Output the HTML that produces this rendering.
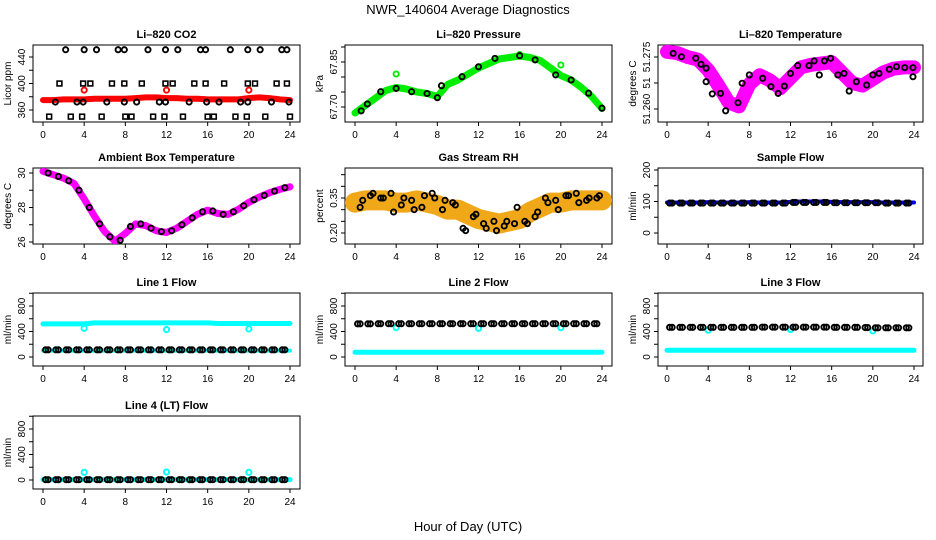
<!DOCTYPE html>
<html><head><meta charset="utf-8"><style>
html,body{margin:0;padding:0;background:#fff}
svg{display:block;font-family:"Liberation Sans",Arial,sans-serif}
</style></head><body>
<svg id="c" width="936" height="540" viewBox="0 0 936 540">
<text x="468" y="14" text-anchor="middle" font-size="13">NWR_140604  Average Diagnostics</text>
<text x="468" y="531" text-anchor="middle" font-size="13">Hour of Day (UTC)</text>
</svg>
<script>
// ---- data ----
const hours = [0,1,2,3,4,5,6,7,8,9,10,11,12,13,14,15,16,17,18,19,20,21,22,23,24];
const halfHours = [0.5,1.5,2.5,3.5,4.5,5.5,6.5,7.5,8.5,9.5,10.5,11.5,12.5,13.5,14.5,15.5,16.5,17.5,18.5,19.5,20.5,21.5,22.5,23.5];
const outlierHours = [4,12,20];
// CO2
const co2Red = [375,375,376,376,376,377,377,377,377,378,379,379,378,378,377,377,376,376,376,376,378,379,378,376,375];
const co2RedOut = [390,390,390];
const co2TopHours = [2.2,4.0,5.2,7.3,7.9,10.2,11.9,13.1,15.3,15.8,18.2,19.9,21.1,23.2,23.7];
const co2MidHours = [1.6,3.9,4.6,6.7,7.9,9.6,11.9,12.6,14.7,15.8,17.6,19.9,20.6,22.7,23.7];
const co2LowHours = [1.2,3.3,3.9,6.2,7.9,9.1,11.3,11.9,14.2,15.9,17.1,19.2,19.9,22.2,23.9];
const co2BotHours = [0.6,2.7,3.8,5.7,8.0,8.6,10.7,11.8,13.6,16.0,16.6,18.7,19.8,21.6,24.0];
const co2Levels = [451,400,372,350];
// Pressure
const presHours = [0.6,1.2,2.5,4,5.5,7,8,8.4,10.4,12,13.6,16,17.5,19.5,21,22.7,24];
const presBlack = [67.687,67.71,67.751,67.762,67.751,67.745,67.731,67.771,67.801,67.834,67.862,67.871,67.857,67.807,67.79,67.746,67.696];
const presGreen = [67.68,67.705,67.73,67.755,67.765,67.76,67.75,67.745,67.735,67.775,67.79,67.81,67.83,67.845,67.86,67.865,67.87,67.865,67.855,67.83,67.805,67.79,67.765,67.735,67.695];
const presGreenOut = [67.81,67.875,67.84];
const presOutHours = [4,16,20];
// Li-820 temperature
const tempHours = [0.6,1.4,2.8,3.3,3.8,3.8,4.4,5.2,5.7,6.9,7.3,8,9.3,10.1,10.8,11.4,12,12.7,13.8,14.3,14.8,15.3,15.9,16.6,17.2,17.7,18.4,19.4,20,20.6,21.6,22.3,23.1,23.9,23.9];
const tempBlack = [51.2764,51.2751,51.2745,51.2722,51.2707,51.2655,51.2608,51.261,51.2543,51.2574,51.2649,51.2681,51.2668,51.2636,51.261,51.2638,51.2687,51.2717,51.2717,51.2735,51.2681,51.2735,51.2745,51.2681,51.2687,51.2619,51.2655,51.2642,51.2681,51.2687,51.2703,51.2713,51.2709,51.2709,51.2674];
const tempMag = [51.277,51.2765,51.275,51.274,51.270,51.264,51.2575,51.256,51.2645,51.268,51.266,51.263,51.267,51.271,51.272,51.2725,51.273,51.269,51.265,51.264,51.2665,51.269,51.2705,51.271,51.271];
// Ambient box temperature
const ambMag = [30.1,29.9,29.7,29.4,28.5,27.5,26.6,26.05,26.5,27.05,26.95,26.65,26.55,26.8,27.2,27.6,27.85,27.65,27.6,27.9,28.3,28.6,28.85,29.05,29.2];
const ambBlack = [30.0,29.8,29.55,29.0,28.0,27.05,26.3,26.1,26.9,27.05,26.8,26.6,26.65,27.0,27.4,27.75,27.8,27.6,27.75,28.1,28.45,28.7,28.95,29.15];
// Gas stream RH
const rhBand = [0.33,0.34,0.34,0.34,0.33,0.33,0.34,0.33,0.32,0.30,0.30,0.28,0.26,0.25,0.24,0.25,0.26,0.29,0.31,0.33,0.33,0.34,0.34,0.34,0.34];
const rhBlackA = [0.31,0.36,0.35,0.37,0.32,0.34,0.31,0.37,0.30,0.33,0.22,0.27,0.24,0.25,0.23,0.24,0.25,0.27,0.35,0.34,0.36,0.37,0.34,0.35];
const rhBlackB = [0.34,0.37,0.35,0.29,0.35,0.30,0.36,0.35,0.34,0.32,0.21,0.28,0.22,0.21,0.25,0.31,0.24,0.29,0.33,0.30,0.36,0.33,0.35,0.36];
// Sample flow
const sampBlue = [97,97,97,97,98,97,97,97,98,97,97,97,99,100,100,100,99,98,98,98,98,97,97,97,97];
const sampBlack = [95,95,95,95,95,95,95,95,95,95,95,95,97,97,97,97,96,96,96,96,96,95,95,95];
// Line flows
const l1CyanHi = [520,520,520,520,520,535,535,535,535,535,535,535,535,535,535,535,535,525,525,525,525,525,525,525,525];
const l1CyanLo = [100,100,100,100,100,100,100,100,100,100,100,100,100,100,100,100,100,100,100,100,100,100,100,100,100];
const l1Black = [112,112,112,112,112,112,112,112,112,112,112,112,112,112,112,112,112,112,112,112,112,112,112,112];
const l1Out = [450,430,440];
const l2Black = [520,520,522,522,522,522,522,522,522,522,522,522,522,522,522,522,522,522,522,522,522,522,522,522];
const l2CyanLo = [75,75,75,75,75,75,75,75,75,75,75,75,75,75,75,75,75,75,75,75,75,75,75,75,75];
const l2Out = [460,450,460];
const l3Black = [465,465,465,465,465,465,465,465,465,468,468,468,468,468,468,468,465,465,465,462,458,458,458,458];
const l3CyanLo = [105,105,105,105,105,105,105,105,105,105,105,105,105,105,105,105,105,105,105,105,105,105,105,105,105];
const l3Out = [420,430,410];
const l4Black = [5,5,5,5,5,5,5,5,5,5,5,5,5,5,5,5,5,5,5,5,5,5,5,5];
const l4Cyan = [5,5,5,5,5,5,5,5,5,5,5,5,5,5,5,5,5,5,5,5,5,5,5,5,5];
const l4Out = [120,125,120];
const xTicks = [0,4,8,12,16,20,24];

// ---- layout ----
const svg = document.getElementById('c');
const NS = 'http://www.w3.org/2000/svg';
const COLS = [{l:33,r:300,x0:43,x24:290},{l:345,r:612,x0:355,x24:602},{l:658,r:923,x0:667,x24:914}];
const ROWS = [{t:45,b:122},{t:168,b:244},{t:293,b:366},{t:416,b:489}];
function mk(tag, attrs, parent){const e=document.createElementNS(NS,tag);for(const k in attrs)e.setAttribute(k,attrs[k]);(parent||svg).appendChild(e);return e;}

function panel(name, col, row, title, ylab, cal, yt, ylabels){
  const C=COLS[col], R=ROWS[row];
  const g=mk('g',{});
  
  
  const sx=h=>C.x0+h*(C.x24-C.x0)/24;
  const sy=v=>cal[1]+(v-cal[0])*(cal[3]-cal[1])/(cal[2]-cal[0]);
  const box=mk('rect',{x:C.l,y:R.t,width:C.r-C.l,height:R.b-R.t,fill:'none',stroke:'#000','stroke-width':1},g);
  
  
  const tt=mk('text',{x:(C.l+C.r)/2,y:R.t-7,'text-anchor':'middle','font-size':11,'font-weight':'bold'},g);
  tt.textContent=title;
  
  
  xTicks.forEach(h=>{
    mk('line',{x1:sx(h),x2:sx(h),y1:R.b,y2:R.b+4,stroke:'#000'},g);
    const t=mk('text',{x:sx(h),y:R.b+16,'text-anchor':'middle','font-size':10},g);
    t.textContent=h;
    
    
  });
  yt.forEach((v,i)=>{
    const y=sy(v);
    mk('line',{x1:C.l-4,x2:C.l,y1:y,y2:y,stroke:'#000'},g);
    if(ylabels[i]){
      const t=mk('text',{x:C.l-8,y:y,'text-anchor':'middle','font-size':10,transform:`rotate(-90 ${C.l-8} ${y})`},g);
      t.textContent=ylabels[i];
      
      
    }
  });
  const yl=mk('text',{x:C.l-22,y:(R.t+R.b)/2,'text-anchor':'middle','font-size':10,transform:`rotate(-90 ${C.l-22} ${(R.t+R.b)/2})`},g);
  yl.textContent=ylab;
  
  
  const clip='clip-'+name;
  const cp=mk('clipPath',{id:clip},g);
  mk('rect',{x:C.l,y:R.t,width:C.r-C.l,height:R.b-R.t},cp);
  const pg=mk('g',{'clip-path':`url(#${clip})`},g);
  return {
    band(xs,vals,color,w,label){
      const p=mk('polyline',{points:xs.map((h,i)=>sx(h)+','+sy(vals[i])).join(' '),fill:'none',stroke:color,'stroke-width':w,'stroke-linecap':'round','stroke-linejoin':'round'},pg);
      
      
    },
    pts(xs,vals,color,label,r){
      xs.forEach((h,i)=>{
        const c=mk('circle',{cx:sx(h),cy:sy(vals[i]),r:r||2.6,fill:'none',stroke:color,'stroke-width':1.9},pg);
        
        
      });
    },
    sq(xs,val,label){
      xs.forEach(h=>{
        const c=mk('rect',{x:sx(h)-2.4,y:sy(val)-2.4,width:4.8,height:4.8,fill:'none',stroke:'#000','stroke-width':1.6},pg);
        
        
      });
    }
  };
}
const flowTicks=[0,200,400,600,800,1000], flowLabels=['0','','400','','800',''];
function rowCal(row){return [0,ROWS[row].t+64,800,ROWS[row].t+13];}
const quarter = halfHours.map(h=>h-0.25);

// CO2
let p=panel('co2',0,0,'Li\u2013820 CO2','Licor ppm',[360,110,440,57],[360,380,400,420,440],['360','','400','','440']);
p.band(hours,co2Red,'#ff0000',6,'co2-red-series');
p.pts(outlierHours,co2RedOut,'#ff0000','co2-red-outlier');
p.pts(co2TopHours,co2TopHours.map(()=>co2Levels[0]),'#000','co2-black-point');
p.sq(co2MidHours,co2Levels[1],'co2-black-square');
p.pts(co2LowHours,co2LowHours.map(()=>co2Levels[2]),'#000','co2-black-point');
p.sq(co2BotHours,co2Levels[3],'co2-black-square');
// Pressure
p=panel('pressure',1,0,'Li\u2013820 Pressure','kPa',[67.70,107,67.85,62],[67.70,67.75,67.80,67.85,67.90],['67.70','','','67.85','']);
p.band(hours,presGreen,'#00ee00',7,'pressure-green-series');
p.pts(presOutHours,presGreenOut,'#00ee00','pressure-green-outlier');
p.pts(presHours,presBlack,'#000','pressure-black-point');
// Li-820 temp
p=panel('li820-temp',2,0,'Li\u2013820 Temperature','degrees C',[51.275,57,51.255,109],[51.255,51.265,51.275],['51.260','51','51.275']);
p.band(hours,tempMag,'#ff00ff',14,'li820-temp-magenta-series');
p.pts(tempHours,tempBlack,'#000','li820-temp-black-point');
// Ambient
p=panel('ambient-temp',0,1,'Ambient Box Temperature','degrees C',[30,173,26,242],[26,27,28,29,30],['26','','28','','30']);
p.band(hours,ambMag,'#ff00ff',7,'ambient-magenta-series');
p.pts(halfHours,ambBlack,'#000','ambient-black-point');
// RH
p=panel('gas-rh',1,1,'Gas Stream RH','percent',[0.20,233,0.35,198],[0.20,0.25,0.30,0.35,0.40,0.45],['0.20','','','0.35','','']);
p.band(hours,rhBand,'#f0a818',20,'rh-orange-series');
p.pts(halfHours,rhBlackA,'#000','rh-black-point');
p.pts(halfHours.map(h=>h+0.25),rhBlackB,'#000','rh-black-point');
// Sample flow
p=panel('sample-flow',2,1,'Sample Flow','ml/min',[0,233,200,170],[0,50,100,150,200],['0','','100','','200']);
p.band(hours,sampBlue,'#0000ff',4,'sample-flow-blue-series');
p.pts(halfHours,sampBlack,'#000','sample-flow-black-point');
p.pts(quarter,sampBlack,'#000','sample-flow-black-point');
// Line 1
p=panel('line1-flow',0,2,'Line 1 Flow','ml/min',rowCal(2),flowTicks,flowLabels);
p.band(hours,l1CyanHi,'#00ffff',5,'line1-cyan-high');
p.band(hours,l1CyanLo,'#00ffff',4,'line1-cyan-low');
p.pts(outlierHours,l1Out,'#00ffff','line1-cyan-outlier');
p.pts(halfHours,l1Black,'#000','line1-black-point');
p.pts(quarter,l1Black,'#000','line1-black-point');
// Line 2
p=panel('line2-flow',1,2,'Line 2 Flow','ml/min',rowCal(2),flowTicks,flowLabels);
p.band(hours,l2CyanLo,'#00ffff',5,'line2-cyan-low');
p.pts(outlierHours,l2Out,'#00ffff','line2-cyan-outlier');
p.pts(halfHours,l2Black,'#000','line2-black-point');
p.pts(quarter,l2Black,'#000','line2-black-point');
// Line 3
p=panel('line3-flow',2,2,'Line 3 Flow','ml/min',rowCal(2),flowTicks,flowLabels);
p.band(hours,l3CyanLo,'#00ffff',5,'line3-cyan-low');
p.pts(outlierHours,l3Out,'#00ffff','line3-cyan-outlier');
p.pts(halfHours,l3Black,'#000','line3-black-point');
p.pts(quarter,l3Black,'#000','line3-black-point');
// Line 4
p=panel('line4-flow',0,3,'Line 4 (LT) Flow','ml/min',rowCal(3),flowTicks,flowLabels);
p.band(hours,l4Cyan,'#00ffff',5,'line4-cyan-series');
p.pts(outlierHours,l4Out,'#00ffff','line4-cyan-outlier');
p.pts(halfHours,l4Black,'#000','line4-black-point');
p.pts(quarter,l4Black,'#000','line4-black-point');
</script>
</body></html>
